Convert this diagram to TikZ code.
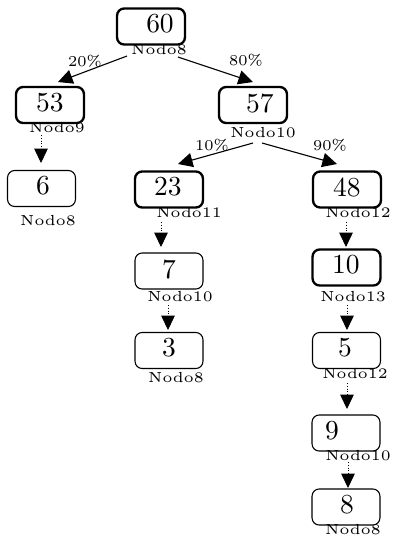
\documentclass[tikz,border=0pt]{standalone}
\usetikzlibrary{arrows.meta}
\begin{document}
\begin{tikzpicture}[x=0.36364pt,y=-0.36364pt,
  box/.style={draw,rounded corners=2.6pt,minimum width=24.7pt,minimum height=13.1pt,inner sep=0pt,line width=0.4pt},
  tbox/.style={box,line width=0.85pt},
  num/.style={inner sep=0pt,font=\fontsize{10}{12}\selectfont},
  lab/.style={inner sep=0pt,font=\fontsize{5.3}{6}\selectfont},
  pct/.style={inner sep=0pt,font=\fontsize{5.5}{6}\selectfont},
  edge/.style={line width=0.4pt,-{Triangle[length=5.3pt,width=5.2pt]}},
  dedge/.style={line width=0.3pt,dash pattern=on 0.45pt off 0.55pt,-{Triangle[length=5.2pt,width=4.9pt]}}]
\useasboundingbox (0,0) rectangle (393,540);
% boxes
\node[tbox] (b60) at (151,26.5) {};
\node[tbox] (b53) at (50,105) {};
\node[tbox] (b57) at (253,105) {};
\node[box]  (b6)  at (41.5,188.5) {};
\node[tbox] (b23) at (169,189.5) {};
\node[tbox] (b48) at (347,189.5) {};
\node[box]  (b7)  at (169,271) {};
\node[tbox] (b10) at (346.5,267.5) {};
\node[box]  (b3)  at (169,350.5) {};
\node[box]  (b5)  at (346.5,350.5) {};
\node[box]  (b9)  at (346,433) {};
\node[box]  (b8)  at (346,507) {};
% numbers
\node[num] (t60) at (160,24) {60};
\node[num] (t53) at (50,103) {53};
\node[num] (t57) at (260,103) {57};
\node[num] (t6)  at (43,186) {6};
\node[num] (t23) at (168,187) {23};
\node[num] (t48) at (347,187) {48};
\node[num] (t7)  at (169,269) {7};
\node[num] (t10) at (346,265) {10};
\node[num] (t3)  at (169,348) {3};
\node[num] (t5)  at (345,348) {5};
\node[num] (t9)  at (332,431) {9};
\node[num] (t8)  at (347,505) {8};
% labels
\node[lab] (l60) at (159,50) {Nodo8};
\node[lab] (l53) at (57,128) {Nodo9};
\node[lab] (l57) at (263,133) {Nodo10};
\node[lab] (l6)  at (48,221) {Nodo8};
\node[lab] (l23) at (189,212.5) {Nodo11};
\node[lab] (l48) at (358,212.5) {Nodo12};
\node[lab] (l7)  at (180,297) {Nodo10};
\node[lab] (l10) at (353,297) {Nodo13};
\node[lab] (l3)  at (176,378) {Nodo8};
\node[lab] (l5)  at (355,374) {Nodo12};
\node[lab] (l9)  at (358,456) {Nodo10};
\node[lab] (l8)  at (353,530) {Nodo8};
% percentages
\node[pct] (p20) at (85,61) {20\%};
\node[pct] (p80) at (246,60) {80\%};
\node[pct] (p10) at (212,145) {10\%};
\node[pct] (p90) at (330,145) {90\%};
% connector end points
\coordinate (e1s) at (127,56);  \coordinate (e1e) at (58,82);
\coordinate (e2s) at (178,57);  \coordinate (e2e) at (253,82);
\coordinate (e3s) at (253,143); \coordinate (e3e) at (178,164);
\coordinate (e4s) at (262,143); \coordinate (e4e) at (337,164);
\draw[edge] (e1s) -- (e1e);
\draw[edge] (e2s) -- (e2e);
\draw[edge] (e3s) -- (e3e);
\draw[edge] (e4s) -- (e4e);
\coordinate (d1s) at (41,135);  \coordinate (d1e) at (41,163);
\coordinate (d2s) at (161,222); \coordinate (d2e) at (161,247);
\coordinate (d3s) at (346,222); \coordinate (d3e) at (346,247);
\coordinate (d4s) at (168,305); \coordinate (d4e) at (168,330);
\coordinate (d5s) at (347,305); \coordinate (d5e) at (347,330);
\coordinate (d6s) at (347,383); \coordinate (d6e) at (347,409);
\coordinate (d7s) at (348,462); \coordinate (d7e) at (348,488);
\foreach \i in {1,...,7} {\draw[dedge] (d\i s) -- (d\i e);}
\end{tikzpicture}
\end{document}
